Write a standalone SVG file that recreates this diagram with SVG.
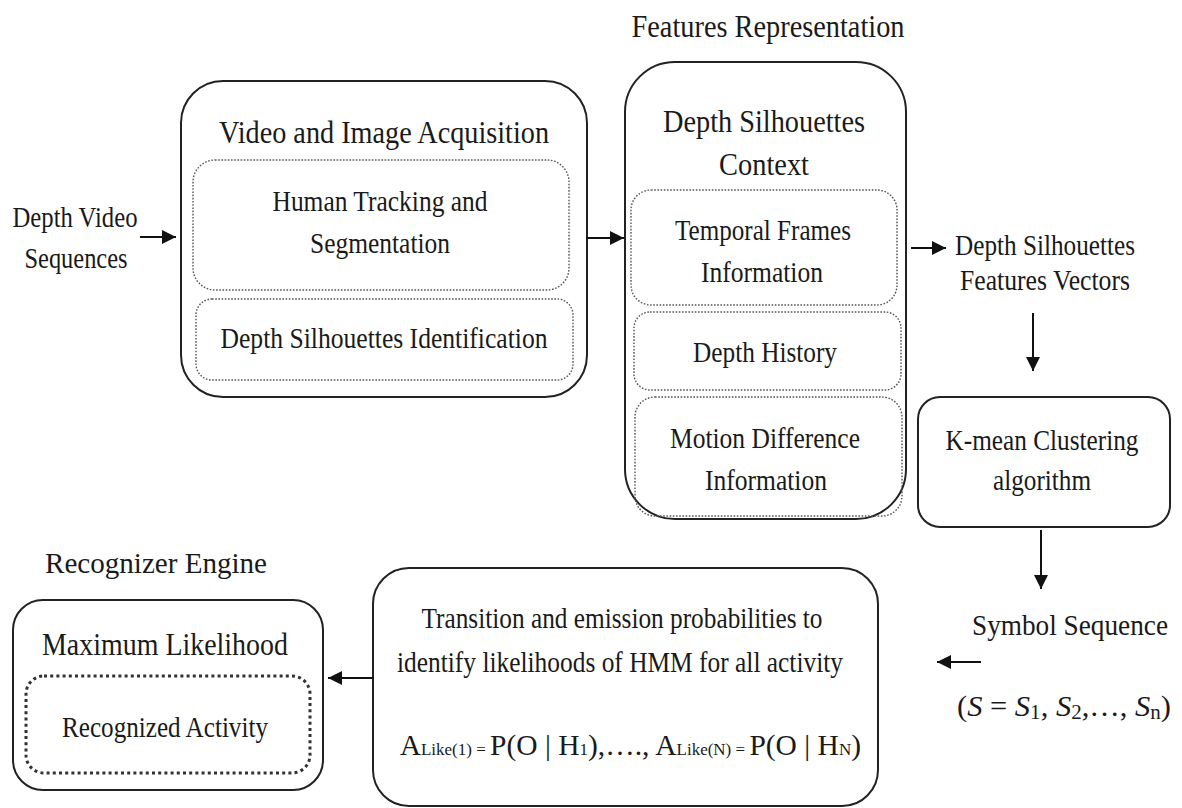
<svg xmlns="http://www.w3.org/2000/svg" width="1182" height="808" viewBox="0 0 1182 808">
<style>
text{font-family:"Liberation Serif","DejaVu Serif","Noto Serif","Times New Roman",serif;fill:#1a1a1a;font-size:29px}
.c{text-anchor:middle}
.t{font-size:31px}
.box{fill:none;stroke:#222;stroke-width:2}
.dot{fill:none;stroke:#555;stroke-width:1.4;stroke-dasharray:1.6 1.6}
.bdot{fill:none;stroke:#333;stroke-width:3;stroke-dasharray:3 3.2}
.ln{stroke:#111;stroke-width:2;fill:none}
.sub{font-size:17px}
.big{font-size:29.5px}
</style>
<defs>
<marker id="ahs" viewBox="0 0 10 10" refX="10" refY="5" markerWidth="14" markerHeight="14" markerUnits="userSpaceOnUse" orient="auto">
<path d="M0,0 L10,5 L0,10 z" fill="#111"/>
</marker>
</defs>
<rect width="1182" height="808" fill="#fff"/>

<g id="input">
<text class="c" x="75" y="227" textLength="125" lengthAdjust="spacingAndGlyphs">Depth Video</text>
<text class="c" x="76" y="268" textLength="103" lengthAdjust="spacingAndGlyphs">Sequences</text>
</g>

<g id="acquisition">
<rect class="box" x="181" y="81" width="406" height="316" rx="42"/>
<text class="c t" x="384" y="143" textLength="330" lengthAdjust="spacingAndGlyphs">Video and Image Acquisition</text>
<rect class="dot" x="193" y="160" width="376" height="130" rx="22"/>
<text class="c" x="380" y="211" textLength="215" lengthAdjust="spacingAndGlyphs">Human Tracking and</text>
<text class="c" x="380" y="253" textLength="140" lengthAdjust="spacingAndGlyphs">Segmentation</text>
<rect class="dot" x="196" y="299" width="377" height="81" rx="16"/>
<text class="c" x="384" y="348" textLength="327" lengthAdjust="spacingAndGlyphs">Depth Silhouettes Identification</text>
</g>

<g id="features">
<text class="c t" x="768" y="37" textLength="273" lengthAdjust="spacingAndGlyphs">Features Representation</text>
<rect class="box" x="625" y="62" width="281" height="457" rx="50"/>
<text class="c t" x="764" y="132" textLength="202" lengthAdjust="spacingAndGlyphs">Depth Silhouettes</text>
<text class="c t" x="764" y="175" textLength="90" lengthAdjust="spacingAndGlyphs">Context</text>
<rect class="dot" x="631" y="190" width="266" height="115" rx="20"/>
<text class="c" x="763" y="240" textLength="176" lengthAdjust="spacingAndGlyphs">Temporal Frames</text>
<text class="c" x="762" y="282" textLength="122" lengthAdjust="spacingAndGlyphs">Information</text>
<rect class="dot" x="634" y="312" width="267" height="78" rx="16"/>
<text class="c" x="765" y="362" textLength="144" lengthAdjust="spacingAndGlyphs">Depth History</text>
<rect class="dot" x="635" y="397" width="267" height="119" rx="20"/>
<text class="c" x="765" y="448" textLength="190" lengthAdjust="spacingAndGlyphs">Motion Difference</text>
<text class="c" x="766" y="490" textLength="122" lengthAdjust="spacingAndGlyphs">Information</text>
</g>

<g id="vectors">
<text class="c" x="1045" y="255" textLength="180" lengthAdjust="spacingAndGlyphs">Depth Silhouettes</text>
<text class="c" x="1045" y="290" textLength="170" lengthAdjust="spacingAndGlyphs">Features Vectors</text>
</g>

<g id="kmean">
<rect class="box" x="918" y="397" width="252" height="130" rx="22"/>
<text class="c" x="1042" y="450" textLength="193" lengthAdjust="spacingAndGlyphs">K-mean Clustering</text>
<text class="c" x="1042" y="490" textLength="98" lengthAdjust="spacingAndGlyphs">algorithm</text>
</g>

<g id="symbols">
<text class="c" x="1070" y="635" textLength="196" lengthAdjust="spacingAndGlyphs">Symbol Sequence</text>
<text x="957" y="716" textLength="214" lengthAdjust="spacingAndGlyphs">(<tspan font-style="italic">S</tspan> = <tspan font-style="italic">S</tspan><tspan font-size="20" dy="3">1</tspan><tspan dy="-3">, </tspan><tspan font-style="italic">S</tspan><tspan font-size="20" dy="3">2</tspan><tspan dy="-3">,…, </tspan><tspan font-style="italic">S</tspan><tspan font-size="20" dy="3">n</tspan><tspan dy="-3">)</tspan></text>
</g>

<g id="hmm">
<rect class="box" x="373" y="568" width="505" height="238" rx="36"/>
<text class="c" x="622" y="628" textLength="401" lengthAdjust="spacingAndGlyphs">Transition and emission probabilities to</text>
<text class="c" x="620" y="672" textLength="446" lengthAdjust="spacingAndGlyphs">identify likelihoods of HMM for all activity</text>
<text x="400" y="755" font-size="28">A<tspan class="sub">Like(1)</tspan><tspan class="sub"> = </tspan><tspan class="big">P(O | H</tspan><tspan class="sub">1</tspan><tspan class="big">),…., A</tspan><tspan class="sub">Like(N)</tspan><tspan class="sub"> = </tspan><tspan class="big">P(O | H</tspan><tspan class="sub">N</tspan><tspan class="big">)</tspan></text>
</g>

<g id="recognizer">
<text class="c" x="156" y="573" textLength="222" lengthAdjust="spacingAndGlyphs">Recognizer Engine</text>
<rect class="box" x="13" y="600" width="310" height="190" rx="30"/>
<text class="c t" x="165" y="655" textLength="246" lengthAdjust="spacingAndGlyphs">Maximum Likelihood</text>
<rect class="bdot" x="26" y="676" width="284" height="97" rx="18"/>
<text class="c" x="165" y="737" textLength="206" lengthAdjust="spacingAndGlyphs">Recognized Activity</text>
</g>

<g id="connectors">
<line class="ln" x1="140" y1="237" x2="176" y2="237" marker-end="url(#ahs)"/>
<line class="ln" x1="586" y1="238" x2="624" y2="238" marker-end="url(#ahs)"/>
<line class="ln" x1="911" y1="248" x2="946" y2="248" marker-end="url(#ahs)"/>
<line class="ln" x1="1033" y1="313" x2="1033" y2="371" marker-end="url(#ahs)"/>
<line class="ln" x1="1041" y1="530" x2="1041" y2="589" marker-end="url(#ahs)"/>
<line class="ln" x1="981" y1="662" x2="937" y2="662" marker-end="url(#ahs)"/>
<line class="ln" x1="373" y1="678" x2="328" y2="678" marker-end="url(#ahs)"/>
</g>
</svg>
